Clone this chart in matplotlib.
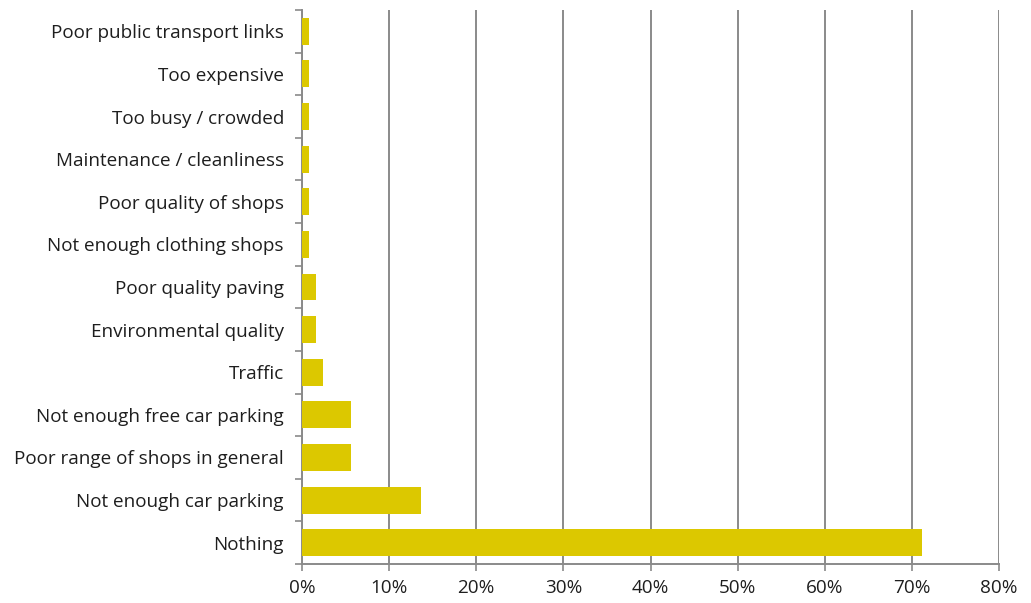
import matplotlib.pyplot as plt
from matplotlib.ticker import FixedLocator, PercentFormatter

# categories listed top to bottom as in the chart
categories = ['Poor public transport links', 'Too expensive', 'Too busy / crowded',
              'Maintenance / cleanliness', 'Poor quality of shops', 'Not enough clothing shops',
              'Poor quality paving', 'Environmental quality', 'Traffic',
              'Not enough free car parking', 'Poor range of shops in general',
              'Not enough car parking', 'Nothing']
values = [0.85, 0.85, 0.85, 0.85, 0.85, 0.85, 1.6, 1.6, 2.4, 5.6, 5.6, 13.7, 71.2]
xticks = [0, 10, 20, 30, 40, 50, 60, 70, 80]

plt.rcParams['font.family'] = ['Open Sans', 'DejaVu Sans']

fig = plt.figure(figsize=(10.31, 6.03), dpi=100)
ax = fig.add_axes([302/1031, 39/603, 697/1031, 554/603])

n = len(categories)
ypos = list(range(n - 1, -1, -1))
ax.barh(ypos, values, height=0.63, color='#DCC800', zorder=3)

ax.set_xlim(0, 80)
ax.set_ylim(-0.5, n - 0.5)
ax.set_xticks(xticks)
ax.xaxis.set_major_formatter(PercentFormatter(decimals=0))
ax.grid(axis='x', color='#8a8a8a', linewidth=1.4, zorder=0)

# excel style: tick marks between categories, labels centred on them
ax.yaxis.set_major_locator(FixedLocator([i - 0.5 for i in range(n + 1)]))
ax.yaxis.set_major_formatter(plt.NullFormatter())
ax.yaxis.set_minor_locator(FixedLocator(ypos))
ax.set_yticklabels(categories, minor=True)
ax.tick_params(axis='y', which='minor', length=0, pad=13, labelsize=13.6, labelcolor='#1e1e1e')
ax.tick_params(axis='y', which='major', length=5, color='#8a8a8a', width=1.2)
ax.tick_params(axis='x', length=5, color='#8a8a8a', width=1.2, pad=6,
               labelsize=13.6, labelcolor='#1e1e1e')

for s in ['top', 'right']:
    ax.spines[s].set_visible(False)
for s in ['left', 'bottom']:
    ax.spines[s].set_color('#8a8a8a')
    ax.spines[s].set_linewidth(1.4)

fig.savefig('out.png', dpi=100)
